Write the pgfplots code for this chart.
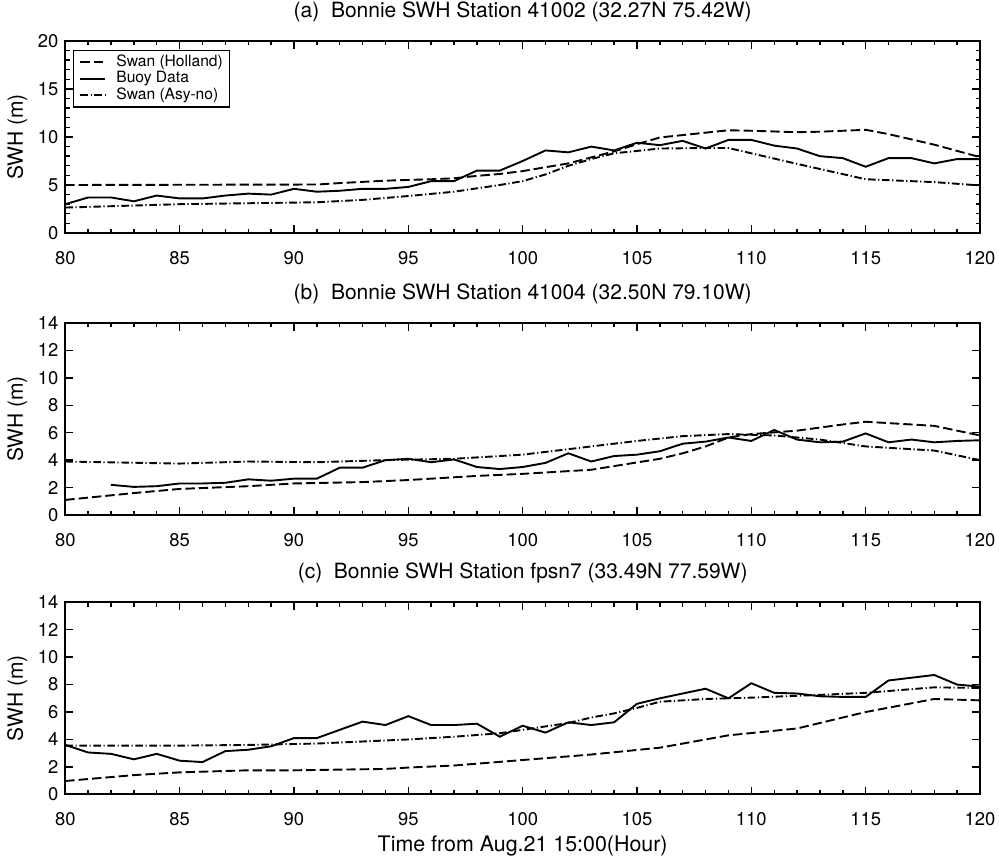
\documentclass[border=0pt]{standalone}
\usepackage{fontspec}
\setmainfont{TeX Gyre Heros}
\usepackage{pgfplots}
\pgfplotsset{compat=1.18}
\pgfplotsset{
 swh/.style={
  scale only axis, width=457.35pt, height=96pt,
  xmin=80, xmax=120, xtick={80,85,...,120}, minor x tick num=4,
  ymin=0,
  tick align=inside, major tick length=3.8pt, minor tick length=2.2pt,
  axis line style={line width=1.1pt},
  tick style={black, line width=0.7pt},
  tick label style={font=\fontsize{9.2}{10}\selectfont},
  /pgf/number format/assume math mode=true,
  ylabel={SWH (m)},
  every axis y label/.style={at={(axis description cs:-0.0525,0.5)}, rotate=90, anchor=center, font=\fontsize{10.5}{12}\selectfont},
  title style={font=\fontsize{10.5}{12}\selectfont},
  xticklabel style={yshift=-5.5pt},
 },
 holland/.style={black, line width=0.95pt, dash pattern=on 4.7pt off 2pt},
 buoy/.style={black, line width=0.95pt},
 asy/.style={black, line width=0.95pt, dash pattern=on 3.8pt off 1.3pt on 0.6pt off 1.3pt},
}
\begin{document}
\begin{tikzpicture}
\useasboundingbox (0,0) rectangle (499.5pt,428.5pt);
% ---------------- (a)
\begin{axis}[swh, at={(32.65pt,312pt)}, anchor=south west,
  ymax=20, ytick={0,5,...,20}, minor y tick num=4,
  title={(a)\ \ Bonnie SWH Station 41002 (32.27N 75.42W)},
  legend style={at={(axis description cs:0,1)}, anchor=north west, xshift=3.8pt, yshift=-4.3pt,
    draw=black, line width=0.6pt, font=\fontsize{7.8}{8.5}\selectfont,
    inner xsep=3pt, inner ysep=1.8pt, row sep=0pt, column sep=4.5pt,
    nodes={inner sep=0.5pt}, cells={anchor=west}},
  legend image code/.code={\draw[#1] (0pt,0pt) -- (12.5pt,0pt);},
]
\addplot[holland] coordinates {(80,5.0)(91,5.05)(92,5.2)(94,5.45)(96,5.6)(97,5.7)(98,5.95)(99,6.15)(100,6.45)(102,7.25)(104,8.5)(105,9.25)(106,9.95)(107,10.2)(108,10.45)(109,10.7)(110,10.65)(112,10.5)(113,10.55)(115,10.75)(116,10.3)(118,9.2)(120,7.9)};
\addlegendentry{Swan (Holland)}
\addplot[buoy] coordinates {(80,3.0)(81,3.7)(82,3.7)(83,3.3)(84,3.9)(85,3.6)(86,3.6)(87,3.9)(88,4.1)(89,4.0)(90,4.6)(91,4.3)(92,4.4)(93,4.6)(94,4.6)(95,4.8)(96,5.4)(97,5.4)(98,6.5)(99,6.5)(100,7.5)(101,8.6)(102,8.4)(103,9.0)(104,8.6)(105,9.4)(106,9.15)(107,9.6)(108,8.8)(109,9.7)(110,9.7)(111,9.1)(112,8.8)(113,8.0)(114,7.8)(115,6.9)(116,7.8)(117,7.8)(118,7.25)(119,7.7)(120,7.7)};
\addlegendentry{Buoy Data}
\addplot[asy] coordinates {(80,2.65)(85,3.0)(91,3.2)(93,3.45)(95,3.85)(97,4.3)(99,5.0)(100,5.4)(101,6.1)(102,7.0)(103,7.7)(104,8.3)(105,8.55)(106,8.8)(108,8.85)(109,8.85)(112,7.2)(115,5.6)(118,5.3)(120,4.95)};
\addlegendentry{Swan (Asy-no)}
\end{axis}
% ---------------- (b)
\begin{axis}[swh, at={(32.65pt,171pt)}, anchor=south west,
  ymax=14, ytick={0,2,...,14},
  title={(b)\ \ Bonnie SWH Station 41004 (32.50N 79.10W)},
]
\addplot[holland] coordinates {(80,1.1)(83,1.6)(85,1.9)(88,2.1)(90,2.3)(93,2.4)(95,2.55)(98,2.85)(100,3.0)(103,3.3)(106,4.1)(107,4.5)(108,5.0)(109,5.65)(110,5.9)(112,6.15)(114,6.6)(115,6.8)(118,6.5)(120,5.8)};
\addplot[buoy] coordinates {(82,2.2)(83,2.05)(84,2.1)(85,2.3)(86,2.3)(87,2.35)(88,2.6)(89,2.5)(90,2.65)(91,2.65)(92,3.45)(93,3.45)(94,4.0)(95,4.1)(96,3.85)(97,4.05)(98,3.5)(99,3.35)(100,3.5)(101,3.8)(102,4.5)(103,3.9)(104,4.3)(105,4.4)(106,4.65)(107,5.2)(108,5.35)(109,5.65)(110,5.4)(111,6.2)(112,5.5)(113,5.3)(114,5.35)(115,5.95)(116,5.3)(117,5.5)(118,5.3)(119,5.4)(120,5.45)};
\addplot[asy] coordinates {(80,3.9)(85,3.75)(88,3.9)(91,3.85)(94,4.0)(97,4.1)(99,4.3)(100,4.4)(102,4.8)(105,5.4)(107,5.75)(109,5.9)(111,5.8)(113,5.5)(115,5.0)(118,4.7)(120,4.0)};
\end{axis}
% ---------------- (c)
\begin{axis}[swh, at={(32.65pt,31.35pt)}, anchor=south west,
  ymax=14, ytick={0,2,...,14},
  title={(c)\ \ Bonnie SWH Station fpsn7 (33.49N 77.59W)},
  xlabel={Time from Aug.21 15:00(Hour)},
  every axis x label/.style={at={(axis description cs:0.5,0)}, anchor=center, yshift=-26pt, font=\fontsize{10.7}{12}\selectfont},
]
\addplot[holland] coordinates {(80,0.97)(83,1.4)(85,1.6)(88,1.75)(90,1.75)(94,1.85)(95,1.95)(97,2.1)(100,2.5)(103,2.9)(106,3.4)(108,4.0)(109,4.3)(112,4.8)(114,5.6)(115,6.0)(118,6.95)(120,6.85)};
\addplot[buoy] coordinates {(80,3.6)(81,3.05)(82,2.95)(83,2.55)(84,2.95)(85,2.45)(86,2.35)(87,3.15)(88,3.25)(89,3.5)(90,4.1)(91,4.1)(92,4.7)(93,5.3)(94,5.05)(95,5.7)(96,5.05)(97,5.05)(98,5.15)(99,4.2)(100,5.0)(101,4.5)(102,5.25)(103,5.05)(104,5.25)(105,6.6)(106,7.0)(107,7.35)(108,7.7)(109,7.0)(110,8.1)(111,7.4)(112,7.35)(113,7.15)(114,7.1)(115,7.1)(116,8.3)(117,8.5)(118,8.7)(119,8.0)(120,7.85)};
\addplot[asy] coordinates {(80,3.55)(85,3.55)(88,3.6)(91,3.7)(95,4.0)(97,4.2)(99,4.45)(100,4.7)(102,5.2)(103,5.6)(104,5.9)(105,6.3)(106,6.75)(108,6.95)(110,7.05)(113,7.25)(115,7.4)(118,7.8)(120,7.75)};
\end{axis}
\end{tikzpicture}
\end{document}
